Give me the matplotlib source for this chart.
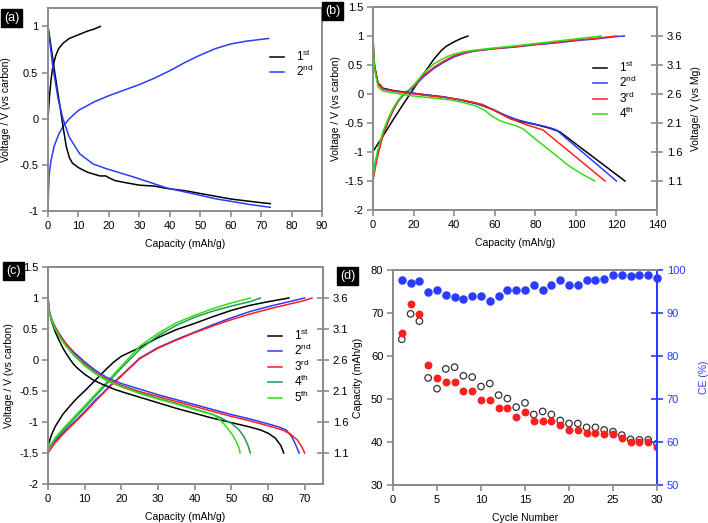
import numpy as np
import matplotlib
matplotlib.use("Agg")
import matplotlib.pyplot as plt

plt.rcParams['font.family'] = ['Liberation Sans', 'DejaVu Sans']
plt.rcParams['mathtext.fontset'] = 'custom'
plt.rcParams['mathtext.rm'] = 'Liberation Sans'

# ---- panel (a) ----
a1_chg_x = [0, 0.5, 1.0, 1.5, 2.5, 3.5, 5, 7, 10, 13, 15, 17.2]
a1_chg_y = [0, 0.25, 0.42, 0.55, 0.68, 0.76, 0.82, 0.87, 0.91, 0.95, 0.97, 1.0]
a1_dis_x = [0, 1, 2, 3, 4, 5, 6, 7, 8, 10, 13, 17, 19, 20, 22, 25, 30, 35, 38, 40, 45, 50, 55, 60, 65, 70, 73]
a1_dis_y = [1.0, 0.78, 0.55, 0.33, 0.12, -0.1, -0.3, -0.42, -0.48, -0.53, -0.58, -0.62, -0.62, -0.64, -0.67,
            -0.69, -0.72, -0.73, -0.75, -0.76, -0.78, -0.81, -0.84, -0.87, -0.89, -0.91, -0.92]
a2_chg_x = [0, 0.15, 0.4, 1, 2, 3.5, 5, 7, 10, 15, 20, 25, 30, 35, 40, 45, 50, 55, 60, 65, 70, 72.5]
a2_chg_y = [-1.0, -0.8, -0.6, -0.45, -0.3, -0.17, -0.08, 0.0, 0.09, 0.18, 0.25, 0.31, 0.37, 0.44, 0.52,
            0.61, 0.69, 0.76, 0.81, 0.84, 0.86, 0.87]
a2_dis_x = [0, 1, 1.6, 2.5, 3.3, 4.9, 7, 10.4, 14.8, 19, 25, 28, 33.5, 39, 44.5, 50, 55.4, 61, 66.4, 73]
a2_dis_y = [1.0, 0.72, 0.56, 0.38, 0.22, 0.0, -0.2, -0.38, -0.49, -0.54, -0.6, -0.63, -0.69, -0.75,
            -0.79, -0.83, -0.87, -0.9, -0.93, -0.96]

# ---- panel (b) ----
b1_chg_x = [0, 5, 10, 15, 20, 25, 30, 33.7, 36, 40, 43, 46.8]
b1_chg_y = [-0.99, -0.72, -0.44, -0.17, 0.09, 0.35, 0.6, 0.75, 0.82, 0.9, 0.95, 1.0]
b1_dis_x = [0, 0.3, 0.8, 2.5, 4.9, 9.9, 16.4, 24.6, 34.5, 42.7, 50.9, 59.2, 67.4, 72.3, 80.5, 87.1, 92, 124.2]
b1_dis_y = [1.0, 0.7, 0.48, 0.19, 0.1, 0.06, 0.03, -0.01, -0.05, -0.1, -0.16, -0.27, -0.42, -0.47,
            -0.53, -0.59, -0.65, -1.5]
b2_chg_x = [0, 1, 2, 3.5, 5, 7.5, 10, 12.5, 15, 17.5, 20, 25, 30, 35, 40, 45, 50, 55, 60, 70, 80, 90, 100, 110, 120, 124]
b2_chg_y = [-1.37, -1.2, -1.07, -0.88, -0.7, -0.47, -0.28, -0.12, -0.02, 0.05, 0.12, 0.3, 0.44, 0.55,
            0.64, 0.7, 0.74, 0.76, 0.78, 0.81, 0.85, 0.88, 0.92, 0.95, 0.99, 1.0]
b2_dis_x = [0, 0.3, 0.8, 2.5, 5, 10, 16, 25, 35, 43, 51, 55, 60, 65, 70, 75, 80, 85, 88, 90.4, 120]
b2_dis_y = [1.0, 0.7, 0.45, 0.17, 0.09, 0.05, 0.03, -0.01, -0.05, -0.1, -0.17, -0.21, -0.28, -0.36,
            -0.43, -0.48, -0.52, -0.56, -0.59, -0.62, -1.5]
b3_chg_x = [0, 1, 2, 3.5, 5, 7.5, 10, 12.5, 15, 17.5, 20, 25, 30, 35, 40, 45, 50, 55, 60, 70, 80, 90, 100, 110, 120]
b3_chg_y = [-1.5, -1.3, -1.12, -0.9, -0.7, -0.46, -0.27, -0.11, -0.01, 0.06, 0.13, 0.32, 0.46, 0.57,
            0.66, 0.71, 0.745, 0.765, 0.785, 0.815, 0.855, 0.89, 0.93, 0.96, 1.0]
b3_dis_x = [0, 0.3, 0.8, 2.5, 5, 10, 16, 25, 37.8, 45, 54, 60.8, 67.4, 75.6, 83.8, 114.4]
b3_dis_y = [1.0, 0.7, 0.45, 0.17, 0.08, 0.05, 0.02, -0.02, -0.07, -0.11, -0.18, -0.3, -0.42, -0.53, -0.62, -1.5]
b4_chg_x = [0, 1, 2, 3.5, 5, 7.5, 10, 12.5, 15, 17.5, 20, 25, 30, 35, 40, 45, 50, 55, 60, 70, 80, 90, 100, 112.5]
b4_chg_y = [-1.42, -1.2, -1.02, -0.82, -0.64, -0.42, -0.24, -0.1, 0.0, 0.07, 0.15, 0.36, 0.52, 0.62,
            0.69, 0.73, 0.755, 0.775, 0.795, 0.83, 0.87, 0.91, 0.95, 1.0]
b4_dis_x = [0, 0.3, 0.8, 2.5, 5, 10, 15, 21, 30, 37.8, 45, 51, 55, 59, 62, 65.7, 70, 74, 80.5, 87, 97, 103, 109.3]
b4_dis_y = [1.0, 0.7, 0.42, 0.12, 0.05, 0.02, -0.01, -0.04, -0.07, -0.1, -0.15, -0.21, -0.28, -0.39,
            -0.45, -0.5, -0.54, -0.6, -0.79, -0.97, -1.25, -1.38, -1.5]

# ---- panel (c) ----
c1_chg_x = [0, 1, 2, 4, 6, 8, 10, 12, 14, 16, 18, 20, 25, 30, 35, 40, 45, 50, 55, 60, 65.7]
c1_chg_y = [-1.38, -1.2, -1.07, -0.88, -0.74, -0.61, -0.5, -0.38, -0.26, -0.14, -0.03, 0.06, 0.2, 0.36,
            0.49, 0.59, 0.7, 0.8, 0.88, 0.94, 1.0]
c2_chg_x = [0, 2, 5, 8, 10, 13, 15, 17, 20, 25, 30, 35, 40, 45, 50, 55, 60, 65, 70]
c2_chg_y = [-1.45, -1.3, -1.12, -0.95, -0.83, -0.64, -0.53, -0.41, -0.25, 0.03, 0.2, 0.33, 0.45, 0.57,
            0.68, 0.78, 0.86, 0.93, 1.0]
c3_chg_x = [0, 2, 5, 8, 10, 13, 15, 17, 20, 25, 30, 35, 40, 45, 50, 55, 60, 65, 70, 72]
c3_chg_y = [-1.5, -1.33, -1.14, -0.97, -0.85, -0.66, -0.54, -0.42, -0.26, 0.02, 0.19, 0.32, 0.44, 0.55,
            0.65, 0.74, 0.82, 0.89, 0.96, 1.0]
c4_chg_x = [0, 2, 5, 10, 15, 20, 25, 30, 35, 40, 45, 50, 55, 57.9]
c4_chg_y = [-1.42, -1.27, -1.08, -0.77, -0.45, -0.13, 0.17, 0.39, 0.56, 0.69, 0.79, 0.87, 0.94, 1.0]
c5_chg_x = [0, 2, 5, 10, 15, 20, 25, 30, 35, 40, 45, 50, 55.2]
c5_chg_y = [-1.45, -1.25, -1.05, -0.74, -0.42, -0.1, 0.22, 0.43, 0.6, 0.72, 0.83, 0.92, 1.0]

c1_dis_x = [0, 0.3, 1, 2, 3, 4, 5, 6, 7, 8, 10, 12, 14, 16, 18, 20, 25, 30, 35, 40, 45, 50, 55, 58, 60, 62, 63.5, 64.3]
c1_dis_y = [1.0, 0.8, 0.62, 0.45, 0.32, 0.2, 0.1, 0.01, -0.07, -0.13, -0.23, -0.31, -0.37, -0.42, -0.47,
            -0.51, -0.6, -0.69, -0.78, -0.86, -0.94, -1.01, -1.08, -1.13, -1.18, -1.26, -1.38, -1.5]
c2_dis_x = [0, 0.3, 1, 2, 3, 4, 5, 7, 10, 13, 16, 20, 25, 30, 35, 40, 45, 50, 55, 60, 63, 65, 66.5, 67.5, 68.5]
c2_dis_y = [1.0, 0.8, 0.66, 0.53, 0.43, 0.34, 0.26, 0.13, -0.03, -0.17, -0.28, -0.38, -0.47, -0.56, -0.64,
            -0.72, -0.8, -0.88, -0.95, -1.03, -1.08, -1.13, -1.24, -1.36, -1.5]
c3_dis_x = [0, 0.3, 1, 2, 3, 4, 5, 7, 10, 13, 16, 20, 25, 30, 35, 40, 45, 50, 55, 60, 64, 66, 68, 69.2, 70]
c3_dis_y = [1.0, 0.8, 0.65, 0.52, 0.42, 0.33, 0.25, 0.11, -0.06, -0.2, -0.31, -0.41, -0.51, -0.59, -0.67,
            -0.75, -0.83, -0.91, -0.98, -1.06, -1.13, -1.19, -1.29, -1.4, -1.5]
c4_dis_x = [0, 0.3, 1, 2, 3, 4, 5, 7, 10, 13, 16, 20, 25, 30, 35, 40, 45, 47, 50, 52, 53.5, 54.5, 55.2]
c4_dis_y = [1.0, 0.8, 0.64, 0.5, 0.39, 0.3, 0.22, 0.08, -0.09, -0.22, -0.33, -0.43, -0.53, -0.62, -0.7,
            -0.79, -0.88, -0.93, -1.02, -1.12, -1.24, -1.37, -1.5]
c5_dis_x = [0, 0.3, 1, 2, 3, 4, 5, 7, 10, 13, 16, 20, 25, 30, 35, 40, 45, 46, 48, 50, 51, 52, 52.4]
c5_dis_y = [1.0, 0.8, 0.64, 0.5, 0.39, 0.3, 0.22, 0.08, -0.09, -0.22, -0.33, -0.43, -0.54, -0.63, -0.71,
            -0.8, -0.88, -0.92, -1.03, -1.18, -1.28, -1.4, -1.5]

# ---- panel (d) ----
cycles = list(range(1, 31))
ce = [97.7, 97.0, 97.5, 94.8, 95.4, 94.3, 93.7, 93.3, 93.9, 94.0, 92.9, 94.0, 95.3, 95.4, 95.4,
      96.5, 95.4, 96.5, 97.6, 96.5, 96.5, 97.6, 97.6, 97.8, 98.8, 98.8, 98.5, 98.8, 98.8, 98.1]
cap_dis = [65.4, 72.0, 69.8, 57.9, 54.9, 54.0, 54.0, 51.9, 51.9, 49.8, 49.8, 47.8, 47.8, 45.8, 46.9,
           45.0, 45.0, 45.0, 43.9, 42.9, 42.9, 42.2, 42.2, 41.9, 41.9, 40.9, 39.9, 39.9, 39.9, 38.9]
cap_chg = [63.9, 69.8, 68.1, 54.9, 52.4, 57.0, 57.4, 55.4, 55.1, 52.9, 53.6, 50.9, 50.1, 48.1, 49.1,
           46.4, 47.1, 46.4, 45.0, 44.3, 44.3, 43.4, 43.4, 42.8, 42.4, 41.6, 40.6, 40.5, 40.5, 39.6]

right_ticks = [-1.5, -1, -0.5, 0, 0.5, 1]
right_labels = ['1.1', '1.6', '2.1', '2.6', '3.1', '3.6']

GRAY = '#8c8c8c'
BLUE = '#2b3bff'
RED = '#ff1f1f'
LGREEN = '#33dd11'
DGREEN = '#1f9a55'
TXT = 'black'
FS = 8
LFS = 7.5


def style(ax, right=False):
    for s in ax.spines.values():
        s.set_color(GRAY)
        s.set_linewidth(1.4)
    ax.tick_params(direction='out', length=4, width=1.2, color=GRAY, labelsize=FS,
                   labelcolor=TXT, pad=3)


def tag(x, y, t):
    fig.text(x / 708, 1 - y / 523, t, color='white', fontsize=9, ha='left', va='top',
             bbox=dict(boxstyle='square,pad=0.25', fc='black', ec='black'))


def sup(n, s):
    return n + r'$\mathrm{^{' + s + '}}$'


def leg(ax, x, y):
    ax.legend(loc='upper left', bbox_to_anchor=(x, y), frameon=False, fontsize=8.5,
              handlelength=1.2, handletextpad=1.0, labelspacing=0.02, borderpad=0, borderaxespad=0)


fig = plt.figure(figsize=(7.08, 5.23), dpi=100)

# (a)
ax = fig.add_axes([48 / 708, 1 - 211 / 523, 274 / 708, 203 / 523])
ax.plot(a1_chg_x, a1_chg_y, color='black', lw=1.1, label=sup('1', 'st'))
ax.plot(a2_chg_x, a2_chg_y, color=BLUE, lw=1.1, label=sup('2', 'nd'))
ax.plot(a1_dis_x, a1_dis_y, color='black', lw=1.1)
ax.plot(a2_dis_x, a2_dis_y, color=BLUE, lw=1.1)
ax.set_xlim(0, 90)
ax.set_ylim(-1, 1.2)
ax.set_xticks(range(0, 91, 10))
ax.set_yticks([-1, -0.5, 0, 0.5, 1])
ax.set_yticklabels(['-1', '-0.5', '0', '0.5', '1'])
ax.set_xlabel('Capacity (mAh/g)', fontsize=LFS, labelpad=6)
ax.set_ylabel('Voltage / V (vs carbon)', fontsize=LFS, labelpad=6)
style(ax)
leg(ax, 0.81, 0.80)

# (b)
ax = fig.add_axes([373 / 708, 1 - 210 / 523, 284 / 708, 203 / 523])
ax.plot(b1_chg_x, b1_chg_y, color='black', lw=1.1, label=sup('1', 'st'))
ax.plot(b2_chg_x, b2_chg_y, color=BLUE, lw=1.1, label=sup('2', 'nd'))
ax.plot(b3_chg_x, b3_chg_y, color=RED, lw=1.1, label=sup('3', 'rd'))
ax.plot(b4_chg_x, b4_chg_y, color=LGREEN, lw=1.1, label=sup('4', 'th'))
ax.plot(b1_dis_x, b1_dis_y, color='black', lw=1.1)
ax.plot(b2_dis_x, b2_dis_y, color=BLUE, lw=1.1)
ax.plot(b3_dis_x, b3_dis_y, color=RED, lw=1.1)
ax.plot(b4_dis_x, b4_dis_y, color=LGREEN, lw=1.1)
ax.set_xlim(0, 140)
ax.set_ylim(-2, 1.5)
ax.set_xticks(range(0, 141, 20))
ax.set_yticks([-2, -1.5, -1, -0.5, 0, 0.5, 1, 1.5])
ax.set_yticklabels(['-2', '-1.5', '-1', '-0.5', '0', '0.5', '1', '1.5'])
ax.set_xlabel('Capacity (mAh/g)', fontsize=LFS, labelpad=6)
ax.set_ylabel('Voltage / V (vs carbon)', fontsize=LFS, labelpad=2)
style(ax)
leg(ax, 0.775, 0.74)
axr = ax.twinx()
axr.set_ylim(-2, 1.5)
axr.set_yticks(right_ticks)
axr.set_yticklabels(right_labels)
axr.set_ylabel('Voltage/ V (vs Mg)', fontsize=LFS, labelpad=6)
style(axr)
axr.tick_params(axis='y', direction='inout', length=8)

# (c)
ax = fig.add_axes([48 / 708, 1 - 484 / 523, 275 / 708, 217 / 523])
ax.plot(c1_chg_x, c1_chg_y, color='black', lw=1.1, label=sup('1', 'st'))
ax.plot(c2_chg_x, c2_chg_y, color=BLUE, lw=1.1, label=sup('2', 'nd'))
ax.plot(c3_chg_x, c3_chg_y, color=RED, lw=1.1, label=sup('3', 'rd'))
ax.plot(c4_chg_x, c4_chg_y, color=DGREEN, lw=1.1, label=sup('4', 'th'))
ax.plot(c5_chg_x, c5_chg_y, color=LGREEN, lw=1.1, label=sup('5', 'th'))
ax.plot(c1_dis_x, c1_dis_y, color='black', lw=1.1)
ax.plot(c2_dis_x, c2_dis_y, color=BLUE, lw=1.1)
ax.plot(c3_dis_x, c3_dis_y, color=RED, lw=1.1)
ax.plot(c4_dis_x, c4_dis_y, color=DGREEN, lw=1.1)
ax.plot(c5_dis_x, c5_dis_y, color=LGREEN, lw=1.1)
ax.set_xlim(0, 75)
ax.set_ylim(-2, 1.5)
ax.set_xticks(range(0, 71, 10))
ax.set_yticks([-2, -1.5, -1, -0.5, 0, 0.5, 1, 1.5])
ax.set_yticklabels(['-2', '-1.5', '-1', '-0.5', '0', '0.5', '1', '1.5'])
ax.set_xlabel('Capacity (mAh/g)', fontsize=LFS, labelpad=6)
ax.set_ylabel('Voltage / V (vs carbon)', fontsize=LFS, labelpad=4)
style(ax)
leg(ax, 0.80, 0.72)
axr = ax.twinx()
axr.set_ylim(-2, 1.5)
axr.set_yticks(right_ticks)
axr.set_yticklabels(right_labels)
style(axr)
axr.tick_params(axis='y', direction='inout', length=8)

# (d)
ax = fig.add_axes([393 / 708, 1 - 485 / 523, 264 / 708, 215 / 523])
ax.scatter(cycles, cap_chg, s=22, facecolors='none', edgecolors='#333333', linewidths=0.9, zorder=3)
ax.scatter(cycles, cap_dis, s=22, color=RED, zorder=3)
ax.set_xlim(0, 30)
ax.set_ylim(30, 80)
ax.set_xticks(range(0, 31, 5))
ax.set_yticks(range(30, 81, 10))
ax.set_xlabel('Cycle Number', fontsize=LFS, labelpad=6)
ax.set_ylabel('Capacity (mAh/g)', fontsize=LFS, labelpad=6)
style(ax)
axr = ax.twinx()
axr.scatter(cycles, ce, s=26, color=BLUE, zorder=3, clip_on=False)
axr.set_ylim(50, 100)
axr.set_yticks(range(50, 101, 10))
axr.set_ylabel('CE (%)', fontsize=LFS, color=BLUE, labelpad=10)
style(axr)
axr.spines['right'].set_color(BLUE)
axr.tick_params(axis='y', direction='inout', length=8, color=BLUE, labelcolor=BLUE)

tag(4, 12, '(a)')
tag(325, 5, '(b)')
tag(6, 265, '(c)')
tag(340, 270, '(d)')

fig.savefig('out.png', dpi=100)
